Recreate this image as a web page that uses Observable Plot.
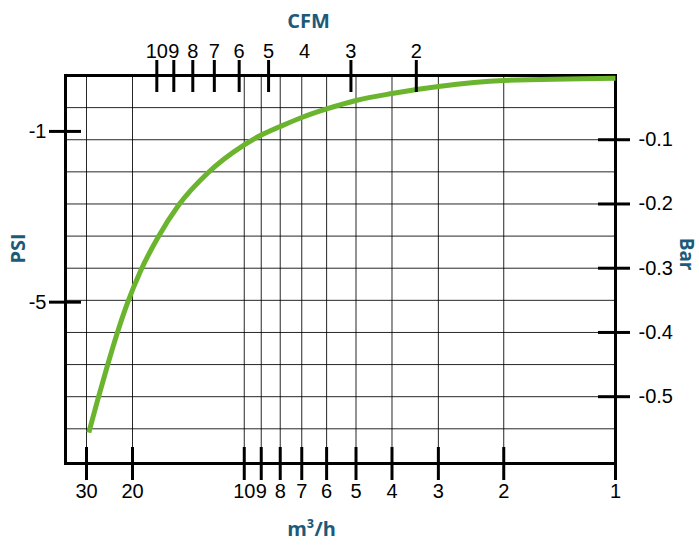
<!DOCTYPE html>
<html><head><meta charset="utf-8">
<script src="https://cdn.jsdelivr.net/npm/d3@7"></script>
<script src="https://cdn.jsdelivr.net/npm/@observablehq/plot@0.6"></script>
<style>body{margin:0;background:#fff}</style>
</head><body><div id="chart"></div>
<script>
// Curve: flow (m³/h) vs vacuum (bar)
const flowM3h = [29.4, 27.1, 25, 23, 20.9, 19, 17.1, 15, 12.5, 10, 9, 8, 7, 6, 5, 4, 3, 2, 1];
const pressureBar = [-0.556, -0.503, -0.453, -0.404, -0.354, -0.3035, -0.2526, -0.2013, -0.151, -0.108, -0.0926, -0.0794, -0.0654, -0.0521, -0.0389, -0.028, -0.0171, -0.0078, -0.0042];

// Axes
const m3hTicks = [30, 20, 10, 9, 8, 7, 6, 5, 4, 3, 2, 1];
const m3hGrid = [30, 20, 10, 9, 8, 7, 6, 5, 4, 3, 2];
const cfmLabels = [10, 9, 8, 7, 6, 5, 4, 3, 2];
const cfmTicks = [10, 9, 8, 7, 6, 5, 3, 2];
const cfmToM3h = 1.72;
const barTicks = [-0.1, -0.2, -0.3, -0.4, -0.5];
const barGrid = [-0.05, -0.1, -0.15, -0.2, -0.25, -0.3, -0.35, -0.4, -0.45, -0.5, -0.55];
const psiTicks = [-1, -5];
const psiRange = [-8.78, 0.31];   // PSI at bottom / top of the chart
const barRange = [-0.604, 0];     // Bar at bottom / top of the chart

const data = flowM3h.map((f, i) => ({flow: f, bar: pressureBar[i]}));
const psiToBar = d3.scaleLinear().domain(psiRange).range(barRange);

const W = 699, H = 550, mL = 65, mR = 84, mT = 75, mB = 87;
const pw = W - mL - mR, ph = H - mT - mB;
const tickFont = "Liberation Sans, Arial, sans-serif";
const titleFont = "Open Sans, Noto Sans, sans-serif";
const titleColor = "#1c5a79";
const green = "#6ab42e";

const chart = Plot.plot({
  width: W, height: H,
  marginLeft: mL, marginRight: mR, marginTop: mT, marginBottom: mB,
  x: {type: "log", domain: [30, 20, 1], range: [86, 132, W - mR], axis: null},
  y: {domain: barRange, axis: null},
  marks: [
    Plot.ruleX(m3hGrid, {x: d => d, stroke: "#000", strokeWidth: 1, strokeOpacity: 0.85}),
    Plot.ruleY(barGrid, {y: d => d, stroke: "#000", strokeWidth: 1, strokeOpacity: 0.85}),
    Plot.frame({stroke: "#000", strokeWidth: 3}),
    Plot.line(data, {x: "flow", y: "bar", stroke: green, strokeWidth: 5, curve: "monotone-x", strokeLinecap: "butt"}),
    // bottom ticks (straddling frame)
    Plot.tickX(m3hTicks, {x: d => d, stroke: "#000", strokeWidth: 3, insetTop: ph - 16, insetBottom: -17}),
    // top CFM ticks
    Plot.tickX(cfmTicks, {x: d => d * cfmToM3h, stroke: "#000", strokeWidth: 3, insetTop: -15, insetBottom: ph - 17}),
    // left PSI ticks
    Plot.tickY(psiTicks, {y: d => psiToBar(d), stroke: "#000", strokeWidth: 3, insetLeft: -16, insetRight: pw - 16}),
    // right Bar ticks
    Plot.tickY(barTicks, {y: d => d, stroke: "#000", strokeWidth: 3, insetLeft: pw - 17, insetRight: -15}),
    // tick labels
    Plot.text(m3hTicks, {x: d => d, text: d => String(d), frameAnchor: "bottom", dy: 34, fontSize: 20, fontFamily: tickFont, fill: "#000"}),
    Plot.text(cfmLabels, {x: d => d * cfmToM3h, text: d => String(d), frameAnchor: "top", dy: -32, fontSize: 20, fontFamily: tickFont, fill: "#000"}),
    Plot.text(psiTicks, {y: d => psiToBar(d), text: d => String(d), frameAnchor: "left", textAnchor: "end", dx: -19, fontSize: 20, fontFamily: tickFont, fill: "#000"}),
    Plot.text(barTicks, {y: d => d, text: d => String(d), frameAnchor: "right", textAnchor: "start", dx: 23, fontSize: 20, fontFamily: tickFont, fill: "#000"}),
    // axis titles
    Plot.text(["CFM"], {text: d => d, frameAnchor: "top", dx: -32, dy: -62, fontSize: 20, fontWeight: "bold", fontFamily: titleFont, fill: titleColor}),
    Plot.text(["m³/h"], {text: d => d, frameAnchor: "bottom", dx: -29, dy: 72, fontSize: 20, fontWeight: "bold", fontFamily: titleFont, fill: titleColor}),
    Plot.text(["PSI"], {text: d => d, frameAnchor: "left", dx: -47, dy: -6, rotate: -90, fontSize: 20, fontWeight: "bold", fontFamily: titleFont, fill: titleColor}),
    Plot.text(["Bar"], {text: d => d, frameAnchor: "right", dx: 71, dy: 1, rotate: 90, fontSize: 19, fontWeight: "bold", fontFamily: titleFont, fill: titleColor})
  ]
});
document.getElementById("chart").appendChild(chart);
</script>
</body></html>
